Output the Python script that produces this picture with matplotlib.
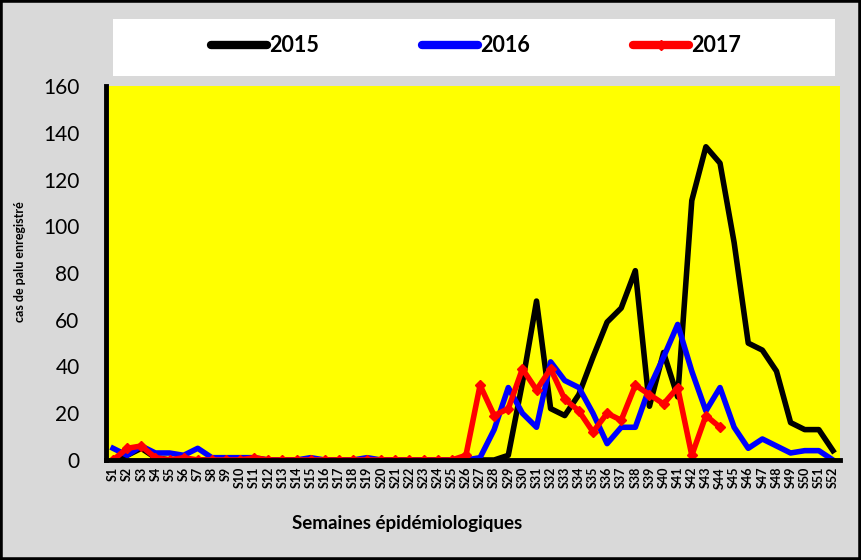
import matplotlib.pyplot as plt
from matplotlib.patches import Rectangle
import numpy as np

plt.rcParams['font.family'] = ['Lato', 'DejaVu Sans']

# weekly malaria cases
weeks = [f"S{i}" for i in range(1, 53)]
cas_2015 = [0, 2, 5, 1, 0, 0, 0, 0, 0, 0, 0, 0, 0, 0, 0, 0, 0, 0, 0, 0,
            0, 0, 0, 0, 0, 0, 0, 0, 2, 33, 68, 22, 19, 28, 44, 59, 65, 81,
            23, 46, 27, 111, 134, 127, 93, 50, 47, 38, 16, 13, 13, 4]
cas_2016 = [5, 2, 6, 3, 3, 2, 5, 1, 1, 1, 1, 0, 0, 0, 1, 0, 0, 0, 1, 0,
            0, 0, 0, 0, 0, 0, 1, 13, 31, 20, 14, 42, 34, 31, 20, 7, 14, 14,
            31, 44, 58, 38, 21, 31, 14, 5, 9, 6, 3, 4, 4, 0]
cas_2017 = [0, 5, 6, 1, 0, 1, 0, 0, 0, 0, 1, 0, 0, 0, 0, 0, 0, 0, 0, 0,
            0, 0, 0, 0, 0, 2, 32, 19, 22, 39, 30, 39, 26, 21, 12, 20, 17, 32,
            28, 24, 31, 2, 19, 14]

fig = plt.figure(figsize=(8.61, 5.6), dpi=100, facecolor='#D9D9D9')
ax = fig.add_axes([106 / 861, 100 / 560, 734 / 861, 374 / 560])
ax.set_facecolor('#FFFF00')

x = np.arange(len(weeks))
lw = 4
ax.plot(x, cas_2015, color='black', lw=lw, solid_joinstyle='round', label='2015')
ax.plot(x, cas_2016, color='#0000FF', lw=lw, solid_joinstyle='round', label='2016')
ax.plot(x[:len(cas_2017)], cas_2017, color='#FF0000', lw=lw, marker='D',
        markersize=5, solid_joinstyle='round', label='2017')

ax.set_xlim(-0.5, len(weeks) - 0.5)
ax.set_ylim(0, 160)
ax.set_yticks(range(0, 161, 20))
ax.set_xticks(x)
ax.set_xticklabels(weeks, rotation=90, fontsize=9, fontweight='bold')
ax.tick_params(axis='y', length=0, pad=19, labelsize=15)
ax.tick_params(axis='x', length=0, pad=5)

for side in ['top', 'right']:
    ax.spines[side].set_visible(False)
ax.spines['left'].set_linewidth(3.5)
ax.spines['bottom'].set_linewidth(3.5)

fig.text(407 / 861, 1 - 523 / 560, 'Semaines épidémiologiques', fontsize=13.5,
         fontweight='bold', ha='center', va='center')
fig.text(20 / 861, 1 - 262 / 560, 'cas de palu enregistré', rotation=90,
         fontsize=9, fontweight='bold', ha='center', va='center')

# legend box
fig.patches.append(Rectangle((113 / 861, 1 - 76 / 560), 722 / 861, 57 / 560,
                             transform=fig.transFigure, facecolor='white',
                             edgecolor='none', zorder=1))
leg = fig.legend(loc='center', bbox_to_anchor=(476 / 861, 1 - 46 / 560), ncol=3,
                 frameon=False, handlelength=2.6, handletextpad=0.1,
                 columnspacing=4.8, prop={'size': 15.5, 'weight': 'bold'})
for h in leg.legend_handles:
    h.set_linewidth(6)
    h.set_solid_capstyle('round')

# outer frame
fig.patches.append(Rectangle((0, 0), 1, 1, transform=fig.transFigure,
                             facecolor='none', edgecolor='black', lw=4, zorder=10))

fig.savefig('out.png', dpi=100, facecolor=fig.get_facecolor())
